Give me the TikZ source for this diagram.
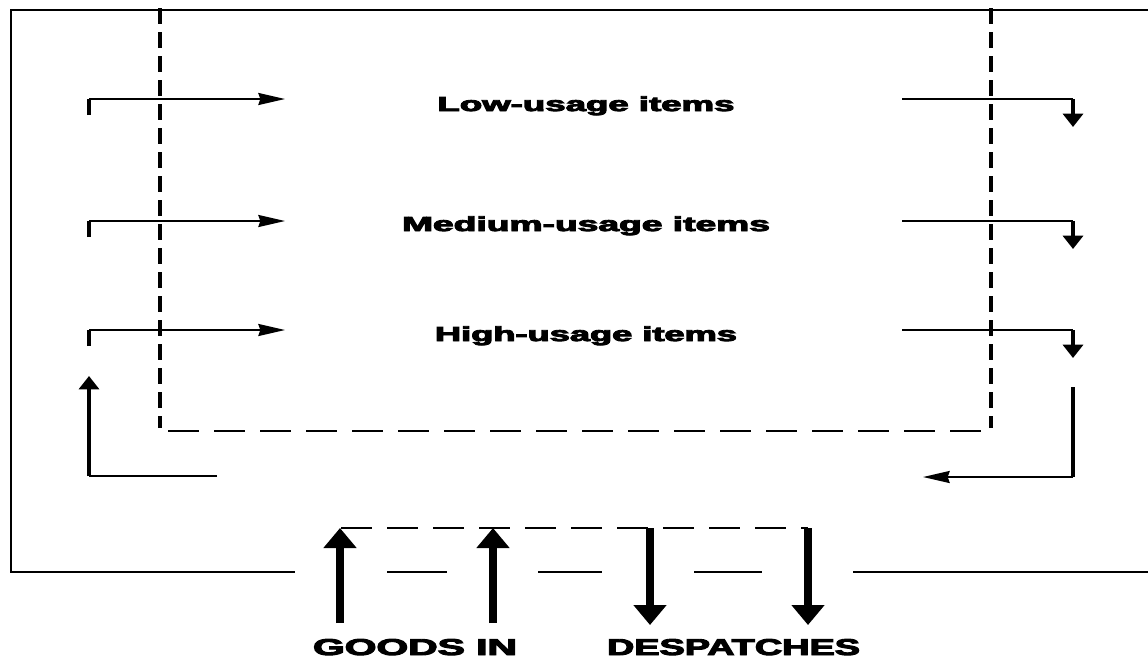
\documentclass[tikz,border=0pt]{standalone}
\usepackage{fontspec}
\usepackage{graphicx}
\usetikzlibrary{arrows.meta}
% heavy sans: bold face thickened by the engine
\font\heavyfont="Liberation Sans/B:embolden=4" at 10pt
% label text squeezed to a given width and cap height
\newcommand\fitlabel[3]{\resizebox{#1}{#2}{\heavyfont #3}}

\begin{document}
\begin{tikzpicture}[x=0.75pt,y=-0.75pt,
  frame/.style={line width=2.1pt, line join=miter},
  zonev/.style={line width=2.9pt, dash pattern=on 12pt off 6pt},
  zoneh/.style={line width=1.7pt, dash pattern=on 23pt off 11.5pt},
  flow/.style={line width=1.5pt},
  feed/.style={line width=2.9pt},
  into/.style={flow, -{Stealth[length=20pt,width=9pt,inset=1.5pt]}},
  drop/.style={feed, -{Triangle[length=10pt,width=15pt]}},
  bulk/.style={line width=5.4pt, -{Triangle[length=15pt,width=24pt]}},
  lbl/.style={inner sep=0pt, anchor=base}]
\useasboundingbox (0,0) rectangle (1148,658);

% building outline with the dock openings in the bottom wall
\coordinate (tr) at (1148,10);
\coordinate (tl) at (11,10);
\coordinate (bl) at (11,572);
\coordinate (b1) at (295,572);
\coordinate (b2) at (387,572); \coordinate (b3) at (447,572);
\coordinate (b4) at (538,572); \coordinate (b5) at (602,572);
\coordinate (b6) at (694,572); \coordinate (b7) at (762,572);
\coordinate (b8) at (853,572); \coordinate (br) at (1148,572);
\draw[frame] (tr) -- (tl) -- (bl) -- (b1);
\draw[frame] (b2) -- (b3);
\draw[frame] (b4) -- (b5);
\draw[frame] (b6) -- (b7);
\draw[frame] (b8) -- (br);

% storage zone boundary
\coordinate (zlt) at (160,8);  \coordinate (zlb) at (160,428);
\coordinate (zrt) at (991,8);  \coordinate (zrb) at (991,428);
\coordinate (zbl) at (168,431); \coordinate (zbr) at (981,431);
\draw[zonev] (zlt) -- (zlb);
\draw[zonev] (zrt) -- (zrb);
\draw[zoneh] (zbl) -- (zbr);

% item classes
\node[lbl] (low)  at (586,111) {\fitlabel{222.75pt}{11pt}{Low-usage items}};
\node[lbl] (med)  at (586,231) {\fitlabel{276pt}{11pt}{Medium-usage items}};
\node[lbl] (high) at (586,341) {\fitlabel{226.5pt}{11pt}{High-usage items}};

% flows into and out of each class
\foreach \y/\n in {99/low,221/med,330/high}{
  \coordinate (\n-s) at (89,\y+16);
  \coordinate (\n-a) at (89,\y);
  \coordinate (\n-in) at (285,\y);
  \coordinate (\n-out) at (902,\y);
  \coordinate (\n-c) at (1073,\y);
  \coordinate (\n-d) at (1073,\y+28);
  \draw[feed] (\n-s) -- (\n-a);
  \draw[into] (\n-a) -- (\n-in);
  \draw[flow] (\n-out) -- (\n-c);
  \draw[drop] (\n-c) -- (\n-d);
}

% return loop on the left
\coordinate (ll) at (217,476);
\coordinate (lc) at (89,476);
\coordinate (lt) at (89,376);
\draw[flow] (ll) -- (lc);
\draw[drop] (lc) -- (lt);

% return loop on the right
\coordinate (rt) at (1073,387);
\coordinate (rc) at (1073,477);
\coordinate (rl) at (923,477);
\draw[feed] (rt) -- (rc);
\draw[into] (rc) -- (rl);

% dock area
\coordinate (dl) at (341,528);
\coordinate (dr) at (808,528);
\draw[line width=1.7pt, dash pattern=on 23.25pt off 11.25pt] (dl) -- (dr);

\coordinate (g1b) at (340,623); \coordinate (g1t) at (340,528);
\coordinate (g2b) at (493,623); \coordinate (g2t) at (493,528);
\coordinate (d1t) at (650,528); \coordinate (d1b) at (650,625);
\coordinate (d2t) at (808,528); \coordinate (d2b) at (808,625);
\draw[bulk] (g1b) -- (g1t);
\draw[bulk] (g2b) -- (g2t);
\draw[bulk] (d1t) -- (d1b);
\draw[bulk] (d2t) -- (d2b);

\node[lbl] (goods) at (415,655) {\fitlabel{153pt}{12pt}{GOODS IN}};
\node[lbl] (desp)  at (733.5,655) {\fitlabel{189.75pt}{12pt}{DESPATCHES}};
\end{tikzpicture}
\end{document}
